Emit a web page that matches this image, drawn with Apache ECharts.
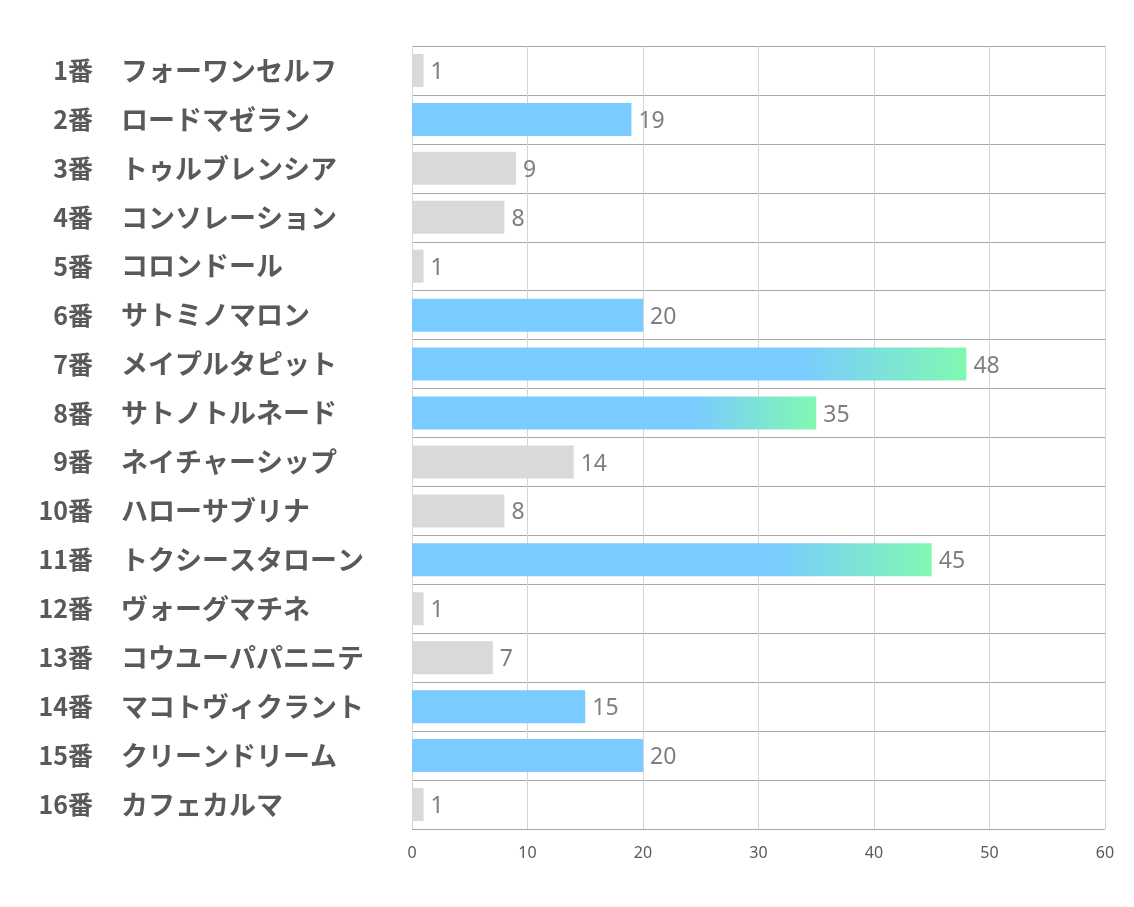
<!DOCTYPE html>
<html><head><meta charset="utf-8">
<script src="https://cdn.jsdelivr.net/npm/echarts@6/dist/echarts.min.js"></script>
<style>html,body{margin:0;padding:0;background:#fff}#c{width:1134px;height:907px}</style>
</head><body><div id="c"></div>
<script>
const numbers = ['1番','2番','3番','4番','5番','6番','7番','8番','9番','10番','11番','12番','13番','14番','15番','16番'];
const horseNames = ['フォーワンセルフ','ロードマゼラン','トゥルブレンシア','コンソレーション','コロンドール','サトミノマロン','メイプルタピット','サトノトルネード','ネイチャーシップ','ハローサブリナ','トクシースタローン','ヴォーグマチネ','コウユーパパニニテ','マコトヴィクラント','クリーンドリーム','カフェカルマ'];
const values = [1,19,9,8,1,20,48,35,14,8,45,1,7,15,20,1];
// 0 = grey, 1 = blue, 2 = blue→green gradient
const tiers = [0,1,0,0,0,1,2,2,0,0,2,0,0,1,1,0];
const xTicks = [0,10,20,30,40,50,60];

const BLUE = '#7acbff', GREEN = '#80f9b2', GREY = '#d9d9d9';
function colorFor(t){
  if(t===0) return GREY;
  if(t===1) return BLUE;
  return {type:'linear',x:0,y:0,x2:1,y2:0,colorStops:[
    {offset:0,color:BLUE},{offset:0.7,color:BLUE},{offset:1,color:GREEN}]};
}
const labelFont = {fontWeight:'bold',color:'#595959',fontFamily:'Noto Sans CJK JP'};
const chart = echarts.init(document.getElementById('c'));
chart.setOption({
  animation:false,
  grid:{left:412,right:29,top:46,bottom:78,containLabel:false},
  xAxis:{type:'value',min:xTicks[0],max:xTicks[xTicks.length-1],interval:10,
    axisLine:{show:false},axisTick:{show:false},
    splitLine:{show:true,lineStyle:{color:'#d4d4d4',width:1}},
    axisLabel:{color:'#595959',fontSize:16,margin:16,fontFamily:'Noto Sans'}},
  yAxis:[
    {type:'category',inverse:true,data:numbers,position:'left',
      axisLine:{show:false},axisTick:{show:false},
      splitLine:{show:true,lineStyle:{color:'#a6a6a6',width:1}},
      axisLabel:Object.assign({align:'right',margin:319,fontSize:25},labelFont)},
    {type:'category',inverse:true,data:horseNames,position:'left',
      axisLine:{show:false},axisTick:{show:false},splitLine:{show:false},
      axisLabel:Object.assign({align:'left',margin:291,fontSize:27},labelFont)}
  ],
  series:[{type:'bar',barWidth:33,yAxisIndex:0,
    data:values.map((v,i)=>({value:v,itemStyle:{color:colorFor(tiers[i])}})),
    label:{show:true,position:'right',distance:7,offset:[0,2],color:'#7f7f7f',fontSize:23,fontFamily:'Noto Sans'}}]
});
</script></body></html>
